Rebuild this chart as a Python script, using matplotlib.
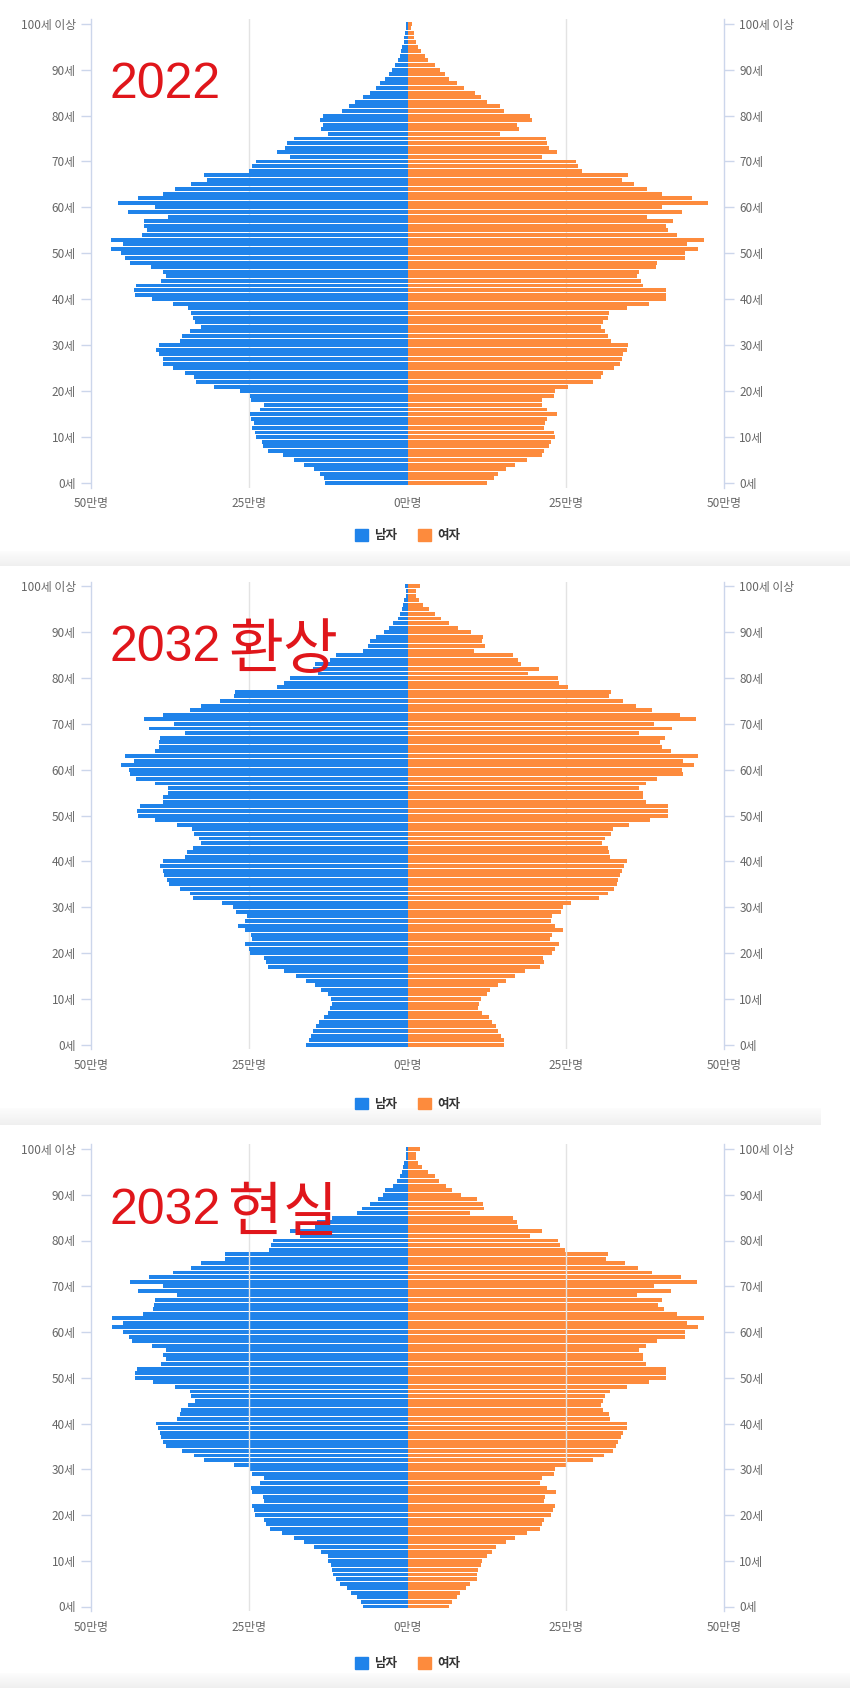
import matplotlib
matplotlib.use('Agg')
import matplotlib.pyplot as plt
from matplotlib.patches import Patch
import numpy as np

plt.rcParams['font.family'] = ['Noto Sans CJK KR', 'DejaVu Sans']

# ages 0 .. 100 (100 = "100세 이상"), values in 만명
ages = list(range(101))
age_ticks = list(range(0, 101, 10))
age_labels = ['0세', '10세', '20세', '30세', '40세', '50세', '60세', '70세', '80세', '90세', '100세 이상']
x_ticks = [-50, -25, 0, 25, 50]
x_labels = ['50만명', '25만명', '0만명', '25만명', '50만명']
title_years = ['2022', '2032', '2032']
title_words = ['', '환상', '현실']

male_2022 = [
    13.0, 13.2, 13.8, 14.8, 16.3, 18.0, 19.7, 22.0, 22.8, 23.0,
    24.0, 24.1, 24.5, 24.3, 24.7, 24.9, 23.3, 22.6, 24.7, 24.9,
    26.5, 30.5, 33.4, 33.8, 35.2, 37.1, 38.6, 38.7, 39.2, 39.8,
    39.2, 35.9, 35.6, 34.4, 32.6, 33.6, 33.9, 34.2, 34.7, 37.1,
    40.4, 43.1, 43.2, 42.9, 38.9, 38.2, 38.6, 40.6, 43.9, 44.7,
    45.2, 46.9, 44.9, 46.9, 41.9, 41.2, 41.6, 41.6, 37.9, 44.2,
    39.9, 45.7, 42.6, 38.7, 36.7, 34.2, 31.6, 32.2, 25.0, 24.5,
    24.0, 18.6, 20.6, 19.3, 19.1, 18.0, 12.6, 13.6, 13.4, 13.8,
    13.3, 10.3, 9.3, 8.3, 7.0, 6.0, 5.0, 4.3, 3.6, 3.0,
    2.4, 1.9, 1.5, 1.2, 1.0, 0.8, 0.6, 0.5, 0.4, 0.3,
    0.3]
female_2022 = [
    12.6, 13.6, 14.3, 15.6, 17.0, 18.8, 21.3, 21.6, 22.3, 22.6,
    23.3, 23.1, 21.5, 21.8, 22.1, 23.6, 22.1, 21.3, 21.3, 23.1,
    23.3, 25.3, 29.3, 30.6, 30.9, 32.7, 33.6, 33.9, 34.0, 34.6,
    34.9, 32.2, 31.6, 31.2, 30.6, 30.9, 31.6, 31.9, 34.6, 38.2,
    40.9, 40.9, 40.9, 37.2, 36.9, 36.2, 36.6, 39.2, 39.4, 43.9,
    43.9, 45.9, 44.2, 46.9, 42.6, 41.1, 40.9, 41.9, 37.9, 43.4,
    40.2, 47.5, 44.9, 40.2, 37.8, 35.8, 33.9, 34.9, 27.6, 26.9,
    26.6, 21.3, 23.6, 22.3, 22.0, 21.9, 14.6, 17.6, 17.3, 19.6,
    19.3, 15.2, 14.6, 12.5, 11.6, 10.6, 9.0, 7.8, 6.6, 6.0,
    5.2, 4.3, 3.3, 2.8, 2.2, 1.7, 1.3, 1.1, 1.0, 0.5,
    0.7]

male_2032a = [
    16.0, 15.6, 15.3, 15.0, 14.5, 14.0, 13.2, 12.6, 12.3, 12.0,
    12.1, 12.6, 13.6, 14.6, 16.0, 17.6, 19.5, 22.0, 22.3, 22.6,
    24.9, 25.1, 25.6, 24.5, 24.7, 25.6, 26.7, 25.6, 25.3, 27.1,
    27.6, 29.3, 33.9, 34.4, 35.9, 37.6, 38.0, 38.4, 38.6, 39.1,
    38.6, 35.2, 34.9, 33.9, 32.6, 32.9, 33.8, 34.0, 36.4, 39.9,
    42.6, 42.7, 42.2, 38.6, 38.6, 37.8, 37.9, 39.9, 42.9, 43.9,
    44.0, 45.3, 43.2, 44.7, 39.9, 39.2, 39.2, 39.1, 35.2, 40.9,
    36.9, 41.6, 38.6, 34.4, 32.6, 29.6, 27.4, 27.3, 20.6, 19.5,
    18.6, 14.1, 15.0, 14.6, 12.3, 11.3, 7.0, 6.3, 6.0, 5.0,
    3.7, 3.0, 2.3, 1.5, 1.2, 0.9, 0.7, 0.5, 0.3, 0.3,
    0.4]
female_2032a = [
    15.3, 15.2, 14.8, 14.3, 14.0, 13.3, 12.8, 11.8, 11.2, 11.3,
    11.6, 12.5, 13.0, 14.3, 15.6, 17.0, 18.6, 20.9, 21.5, 21.4,
    22.9, 23.3, 23.9, 22.5, 22.9, 24.6, 23.3, 22.7, 22.9, 24.3,
    24.6, 25.9, 30.3, 31.6, 32.6, 33.1, 33.2, 33.6, 33.9, 34.2,
    34.7, 32.0, 31.9, 31.6, 30.8, 31.2, 32.2, 32.4, 35.0, 38.3,
    41.1, 41.1, 41.1, 37.6, 37.2, 37.2, 36.6, 37.6, 39.4, 43.5,
    43.3, 45.3, 43.5, 45.9, 41.6, 40.2, 39.9, 40.7, 36.6, 41.8,
    38.9, 45.6, 43.0, 38.6, 36.1, 34.1, 31.8, 32.2, 25.3, 24.0,
    23.8, 19.0, 20.8, 18.0, 17.5, 16.6, 10.5, 12.3, 11.8, 12.0,
    10.0, 8.0, 6.5, 5.3, 4.3, 3.4, 2.5, 1.8, 1.4, 1.3,
    2.0]

male_2032b = [
    7.0, 7.4, 8.0, 9.0, 9.6, 10.6, 11.3, 11.8, 12.0, 12.1,
    12.5, 12.6, 13.6, 14.8, 16.3, 17.9, 19.8, 21.8, 22.3, 22.6,
    24.1, 24.3, 24.5, 22.7, 22.9, 24.6, 24.7, 23.3, 22.6, 24.6,
    24.9, 27.4, 32.1, 33.8, 35.6, 38.2, 38.7, 38.9, 39.1, 39.4,
    39.8, 36.4, 35.9, 35.8, 34.6, 33.6, 34.2, 34.4, 36.7, 40.2,
    43.1, 43.1, 42.7, 38.9, 38.2, 38.6, 38.2, 40.4, 43.6, 44.0,
    44.9, 46.7, 44.9, 46.7, 41.8, 40.2, 40.0, 39.9, 36.4, 42.6,
    38.6, 43.9, 40.9, 37.1, 34.2, 32.6, 28.9, 28.9, 21.9, 21.6,
    21.3, 17.0, 18.6, 14.6, 14.3, 12.0, 8.0, 7.2, 6.0, 4.7,
    3.9, 3.5, 2.3, 1.7, 1.2, 0.9, 0.7, 0.5, 0.3, 0.3,
    0.2]
female_2032b = [
    6.6, 7.0, 7.8, 8.3, 9.2, 9.8, 11.0, 11.0, 11.2, 11.6,
    11.8, 12.6, 13.3, 14.0, 15.6, 17.0, 18.8, 20.9, 21.3, 21.6,
    22.7, 23.0, 23.3, 21.6, 21.8, 23.4, 22.0, 21.0, 21.3, 23.1,
    23.3, 25.2, 29.3, 31.1, 32.4, 32.9, 33.2, 33.8, 34.0, 34.6,
    34.6, 32.0, 31.9, 30.9, 30.6, 30.9, 31.2, 32.0, 34.6, 38.2,
    40.9, 40.9, 40.9, 37.6, 37.2, 37.2, 36.6, 37.6, 39.4, 43.9,
    43.9, 45.9, 44.2, 46.9, 42.6, 40.6, 39.6, 40.2, 36.2, 41.6,
    38.9, 45.7, 43.2, 38.6, 36.4, 34.4, 31.3, 31.6, 24.9, 24.1,
    23.8, 19.3, 21.3, 17.4, 17.3, 16.6, 9.8, 12.1, 12.0, 11.0,
    8.5, 7.0, 6.1, 5.0, 4.4, 3.3, 2.3, 1.6, 1.3, 1.3,
    1.9]

males = [male_2022, male_2032a, male_2032b]
females = [female_2022, female_2032a, female_2032b]

blue = '#1f83ea'
orange = '#fd8b3d'
axis_col = '#ccd6eb'
grid_col = '#e3e3e3'
label_col = '#666666'
red = '#e0161b'

W, H = 850, 1688
fig = plt.figure(figsize=(W / 100, H / 100), dpi=100)


def px_axes(left, top, right, bottom):
    return fig.add_axes([left / W, 1 - bottom / H, (right - left) / W, (bottom - top) / H])


def shadow(top, bottom, right=W):
    # soft gray band between the screenshots
    ax = px_axes(0, top, right, bottom)
    grad = np.linspace(0, 1, 50).reshape(-1, 1)
    ax.imshow(grad, aspect='auto', cmap='Greys', vmin=-0.2, vmax=9,
              extent=[0, 1, 0, 1], origin='upper')
    ax.axis('off')


shadow(551, 566)
shadow(1108, 1125, 821)
shadow(1673, 1688)

# y of age 100 and age 0 for each panel, in pixels
panel_y = [(23.7, 483.0), (586.4, 1044.8), (1149.0, 1606.5)]
title_base = [98, 661, 1224]
legend_pos = [-0.103, -0.117, -0.113]

for i in range(3):
    y100, y0 = panel_y[i]
    step = (y0 - y100) / 100
    ax = px_axes(91, y100 - step, 724, y0 + step)

    ax.barh(ages, [-v for v in males[i]], height=0.86, color=blue, zorder=2, linewidth=0)
    ax.barh(ages, females[i], height=0.86, color=orange, zorder=2, linewidth=0)

    # grid lines over the bars only in the last screenshot
    gz = 3 if i == 2 else 0
    for gx in (-25, 25):
        ax.axvline(gx, color=grid_col, lw=1, zorder=gz)

    ax.set_xlim(-50, 50)
    ax.set_ylim(-1, 101)
    ax.set_yticks(age_ticks)
    ax.set_yticklabels(age_labels)
    ax.set_xticks(x_ticks)
    ax.set_xticklabels(x_labels)
    ax.tick_params(axis='y', left=True, right=True, labelleft=True, labelright=True,
                   length=7, width=1, color=axis_col, labelcolor=label_col,
                   labelsize=8.5, pad=4)
    ax.tick_params(axis='x', length=0, labelcolor=label_col, labelsize=8.5, pad=7)
    for s in ('top', 'bottom'):
        ax.spines[s].set_visible(False)
    for s in ('left', 'right'):
        ax.spines[s].set_color(axis_col)
        ax.spines[s].set_linewidth(1)

    handles = [Patch(color=blue, label='남자'), Patch(color=orange, label='여자')]
    leg = ax.legend(handles=handles, loc='center', bbox_to_anchor=(0.5, legend_pos[i]),
                    ncol=2, frameon=False, handlelength=1.0, handleheight=1.0,
                    handletextpad=0.5, columnspacing=1.7,
                    prop={'weight': 'bold', 'size': 9})
    for t in leg.get_texts():
        t.set_color('#333333')

    # red caption: digits and hangul drawn separately
    fig.text(109 / W, 1 - title_base[i] / H, title_years[i], color=red, fontsize=36,
             ha='left', va='baseline', family=['Liberation Sans'], zorder=5)
    if title_words[i]:
        fig.text(228 / W, 1 - (title_base[i] + 7) / H, title_words[i], color=red, fontsize=43,
                 ha='left', va='baseline', family=['Noto Sans CJK KR'], zorder=5)

fig.savefig('out.png', dpi=100)
